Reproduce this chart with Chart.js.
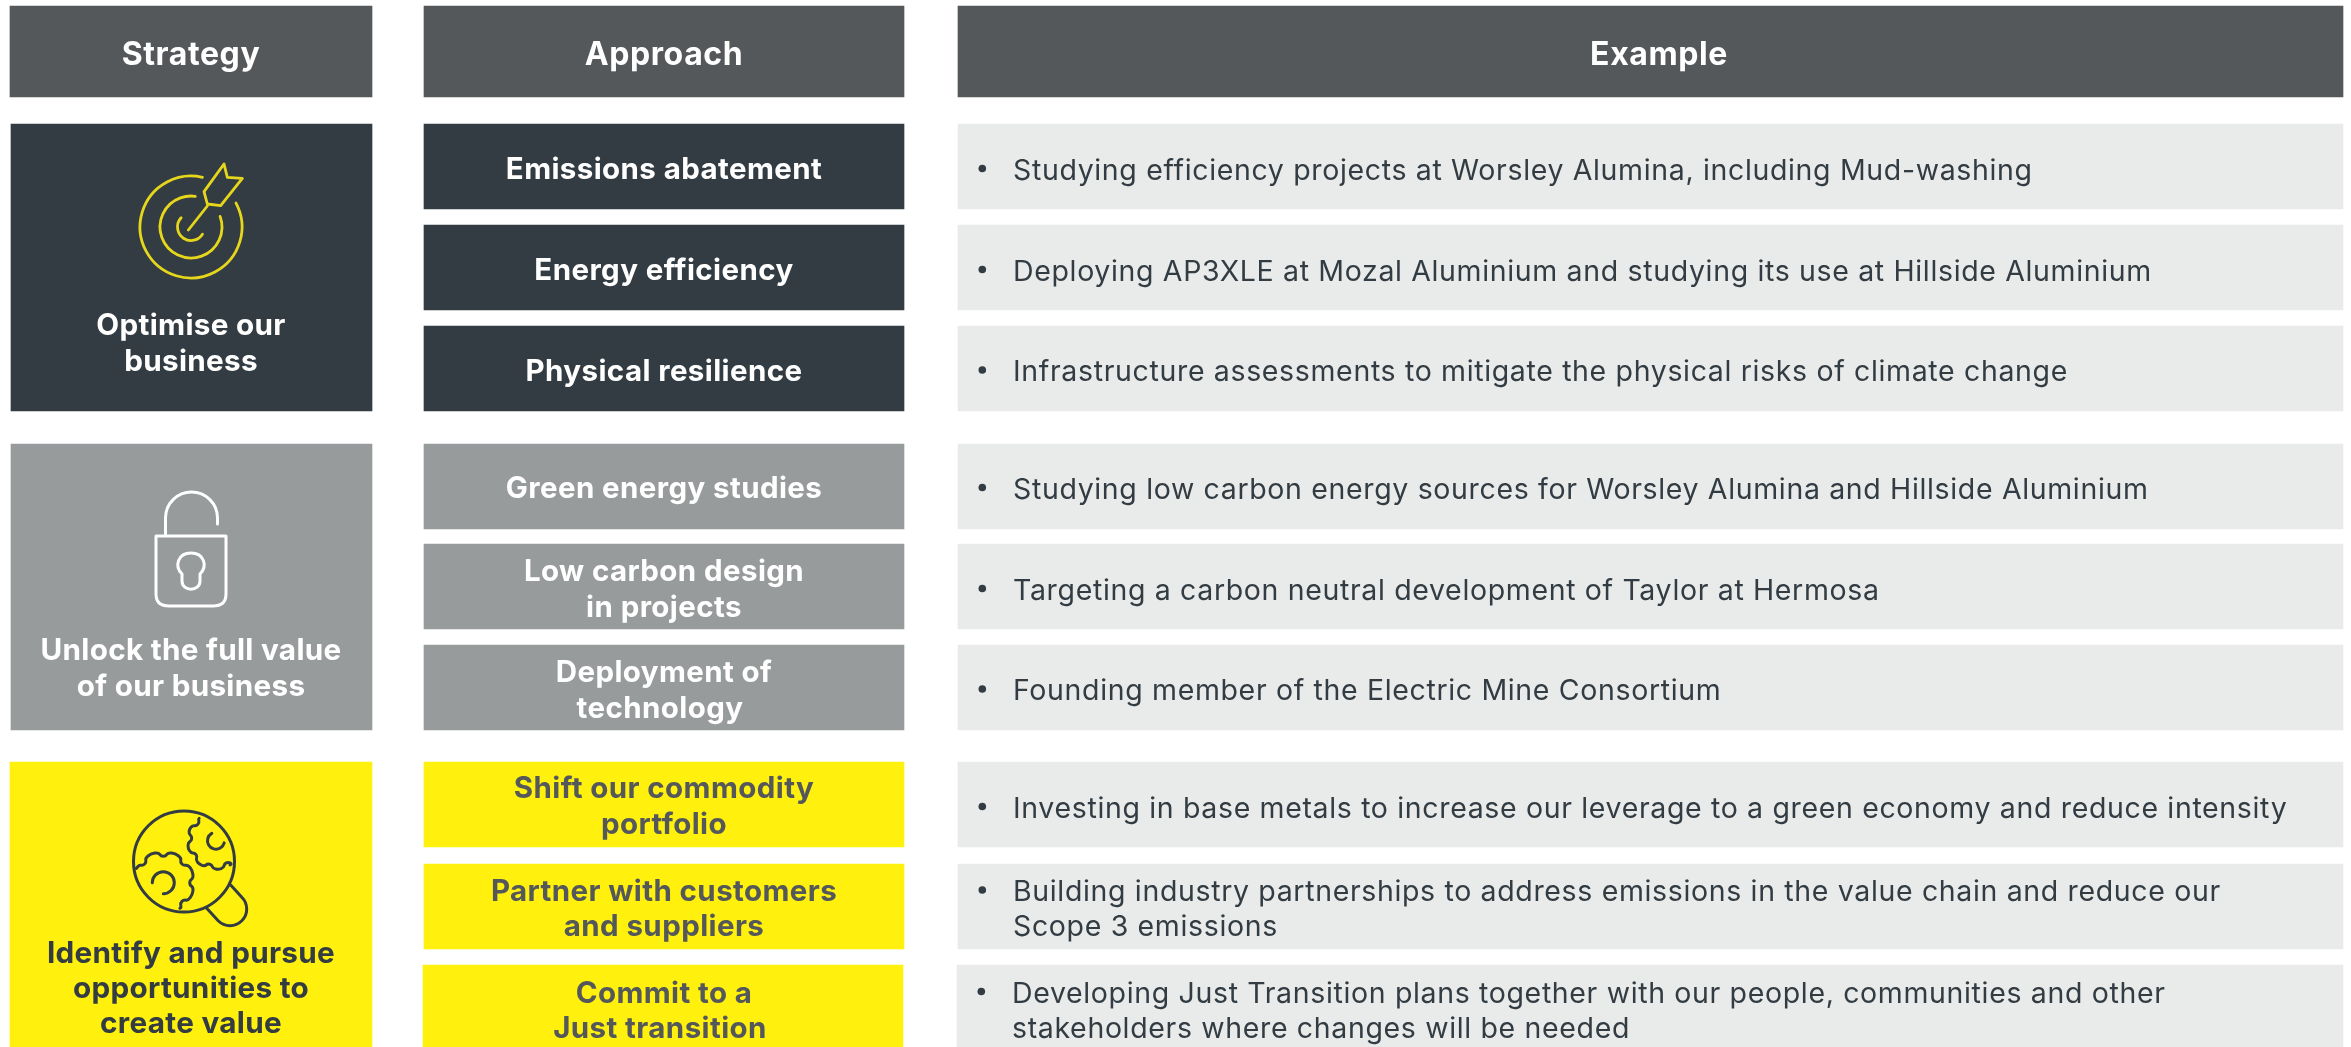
<!DOCTYPE html>
<html>
<head>
<meta charset="utf-8">
<title>Strategy, approach and example</title>
<script src="https://cdn.jsdelivr.net/npm/chart.js@4"></script>
<style>
body { margin: 0; background: #fff; }
canvas { display: block; }
</style>
</head>
<body>
<canvas id="chart" width="2351" height="1047"></canvas>
<script>
// table contents
var headerLabels = ['Strategy', 'Approach', 'Example'];
var strategyLabels = [
	['Optimise our', 'business'],
	['Unlock the full value', 'of our business'],
	['Identify and pursue', 'opportunities to', 'create value']
];
var approachLabels = [
	['Emissions abatement'],
	['Energy efficiency'],
	['Physical resilience'],
	['Green energy studies'],
	['Low carbon design', 'in projects'],
	['Deployment of', 'technology'],
	['Shift our commodity', 'portfolio'],
	['Partner with customers', 'and suppliers'],
	['Commit to a', 'Just transition']
];
var exampleLabels = [
	['Studying efficiency projects at Worsley Alumina, including Mud-washing'],
	['Deploying AP3XLE at Mozal Aluminium and studying its use at Hillside Aluminium'],
	['Infrastructure assessments to mitigate the physical risks of climate change'],
	['Studying low carbon energy sources for Worsley Alumina and Hillside Aluminium'],
	['Targeting a carbon neutral development of Taylor at Hermosa'],
	['Founding member of the Electric Mine Consortium'],
	['Investing in base metals to increase our leverage to a green economy and reduce intensity'],
	['Building industry partnerships to address emissions in the value chain and reduce our', 'Scope 3 emissions'],
	['Developing Just Transition plans together with our people, communities and other', 'stakeholders where changes will be needed']
];

// column and row extents, in axis units
var headerColumns = [[10, 372], [424, 904], [958, 2343]];
var headerTextCentres = [191, 664, 1659];
var headerRow = [6, 97];
var strategyColumns = [[11, 372], [11, 372], [10, 372]];
var approachColumn = [424, 904];
var exampleColumn = [958, 2343];
var strategyRows = [[124, 411], [444, 730], [762, 1047]];
var detailRows = [
	[124, 209], [225, 310], [326, 411],
	[444, 529], [544, 629], [645, 730],
	[762, 847], [864, 949], [965, 1047]
];
var strategyBaselines = [[335, 371], [660, 696], [963, 998, 1033]];
var approachBaselines = [
	[178.5], [279.5], [381],
	[498], [581, 617], [682, 718],
	[798, 834], [900.5, 935.5], [1002.5, 1037.5]
];
var exampleBaselines = [179.5, 280.5, 381, 498.5, 599.5, 700, 817.5, 901, 1002.5];

var headerColor = '#54585a';
var groupColors = ['#323c42', '#979b9b', '#fff10d'];
var exampleColor = '#e9ebea';
var darkText = '#323c42';
var FONT = 'Inter, "Open Sans", sans-serif';

function box(column, row, color, name) {
	return {
		label: name,
		data: [{ x: (column[0] + column[1]) / 2, y: row }],
		barThickness: column[1] - column[0],
		backgroundColor: color,
		grouped: false,
		borderWidth: 0
	};
}

var datasets = [];
headerLabels.forEach(function (name, i) {
	datasets.push(box(headerColumns[i], headerRow, headerColor, name));
});
strategyRows.forEach(function (row, i) {
	datasets.push(box(strategyColumns[i], row, groupColors[i], strategyLabels[i].join(' ')));
});
detailRows.forEach(function (row, i) {
	let group = Math.floor(i / 3);
	// the last row sits one pixel further left in the original
	let shift = i == 8 ? -1 : 0;
	let ac = [approachColumn[0] + shift, approachColumn[1] + shift];
	let ec = [exampleColumn[0] + shift, exampleColumn[1]];
	datasets.push(box(ac, row, groupColors[group], approachLabels[i].join(' ')));
	datasets.push(box(ec, row, exampleColor, exampleLabels[i].join(' ')));
});

function setFont(ctx, weight, size, spacing) {
	ctx.font = weight + ' ' + size + 'px ' + FONT;
	ctx.letterSpacing = spacing + 'px';
}

function drawPoly(ctx, pts, oy) {
	ctx.beginPath();
	pts.forEach(function (p, i) {
		if (i == 0) ctx.moveTo(p[0] / 3, oy + p[1] / 3);
		else ctx.lineTo(p[0] / 3, oy + p[1] / 3);
	});
	ctx.stroke();
}

function rad(d) { return d * Math.PI / 180; }

// open gear outline running through the angles in order, dipping at each notch
function drawGear(ctx, cx, cy, rOut, rIn, angles) {
	let step = angles[1] > angles[0] ? 1 : -1;
	let pts = [];
	function add(a, r) { pts.push([cx + r * Math.cos(rad(a)), cy + r * Math.sin(rad(a))]); }
	add(angles[0], rOut);
	for (let i = 1; i < angles.length - 1; i++) {
		add(angles[i] - step * 9, rOut);
		add(angles[i] - step * 5, rIn + 1);
		add(angles[i] + step * 5, rIn + 1);
		add(angles[i] + step * 9, rOut);
		if (i < angles.length - 2) add((angles[i] + angles[i + 1]) / 2, rOut + 1);
	}
	add(angles[angles.length - 1], rOut);
	ctx.beginPath();
	ctx.moveTo(pts[0][0], pts[0][1]);
	for (let i = 1; i < pts.length - 1; i++) {
		ctx.quadraticCurveTo(pts[i][0], pts[i][1], (pts[i][0] + pts[i + 1][0]) / 2, (pts[i][1] + pts[i + 1][1]) / 2);
	}
	ctx.lineTo(pts[pts.length - 1][0], pts[pts.length - 1][1]);
	ctx.stroke();
}

function drawTarget(ctx) {
	ctx.strokeStyle = '#e6d71c';
	ctx.lineWidth = 2.8;
	ctx.beginPath(); ctx.arc(191, 227, 51, rad(-28), rad(283)); ctx.stroke();
	ctx.beginPath(); ctx.arc(191, 227, 31, rad(-20), rad(278)); ctx.stroke();
	ctx.beginPath(); ctx.arc(191, 227, 13.5, rad(32), rad(223)); ctx.stroke();
	drawPoly(ctx, [[565, 690], [622, 618]], 0);
	drawPoly(ctx, [[612, 575], [672, 492], [682, 532], [727, 535], [662, 617], [622, 612], [612, 575]], 0);
}

function drawLock(ctx) {
	ctx.strokeStyle = '#fff';
	ctx.lineWidth = 3;
	ctx.beginPath();
	ctx.moveTo(156, 536);
	ctx.lineTo(226, 536);
	ctx.lineTo(226, 594);
	ctx.quadraticCurveTo(226, 606, 213, 606);
	ctx.lineTo(169, 606);
	ctx.quadraticCurveTo(156, 606, 156, 594);
	ctx.closePath();
	ctx.stroke();
	ctx.beginPath();
	ctx.moveTo(165.5, 534);
	ctx.lineTo(165.5, 518);
	ctx.arc(191.5, 518, 26, Math.PI, 0);
	ctx.lineTo(217.5, 524);
	ctx.stroke();
	// keyhole
	ctx.beginPath();
	ctx.moveTo(182, 574);
	ctx.bezierCurveTo(174, 566, 178, 553, 191, 553);
	ctx.bezierCurveTo(204, 553, 208, 566, 200, 574);
	ctx.lineTo(200, 581);
	ctx.bezierCurveTo(200, 592, 182, 592, 182, 581);
	ctx.closePath();
	ctx.stroke();
}

function drawLens(ctx) {
	ctx.strokeStyle = darkText;
	ctx.lineWidth = 3;
	ctx.beginPath(); ctx.arc(184, 861.5, 50.5, 0, Math.PI * 2); ctx.stroke();
	ctx.beginPath();
	ctx.moveTo(230.7, 885);
	ctx.lineTo(241.8, 897.2);
	ctx.arc(230, 909, 16.7, rad(-45), rad(135));
	ctx.lineTo(206.7, 908.3);
	ctx.stroke();
	drawGear(ctx, 163.3, 882.7, 30.5, 25.5, [-152, -135, -90, -45, 0, 45, 57]);
	drawGear(ctx, 216, 840.7, 28, 23.5, [233, 222, 185, 145, 105, 65, 60]);
	ctx.beginPath(); ctx.arc(163.3, 882.7, 11, Math.PI, rad(90)); ctx.stroke();
	ctx.beginPath(); ctx.arc(216, 840.7, 8.5, rad(240), rad(15), true); ctx.stroke();
}

var tableText = {
	id: 'tableText',
	afterDatasetsDraw: function (chart) {
		let ctx = chart.ctx;
		let xs = chart.scales.x;
		let ys = chart.scales.y;
		ctx.save();
		ctx.lineCap = 'round';
		ctx.lineJoin = 'round';
		ctx.textBaseline = 'alphabetic';

		// header row
		ctx.textAlign = 'center';
		ctx.fillStyle = '#fff';
		setFont(ctx, 700, 32, 0.6);
		headerLabels.forEach(function (name, i) {
			ctx.fillText(name, xs.getPixelForValue(headerTextCentres[i]), ys.getPixelForValue(64.5));
		});

		// strategy column
		setFont(ctx, 700, 29.7, 0.3);
		strategyLabels.forEach(function (lines, i) {
			let sx = xs.getPixelForValue(191);
			ctx.fillStyle = i == 2 ? darkText : '#fff';
			lines.forEach(function (line, j) {
				ctx.fillText(line, sx, ys.getPixelForValue(strategyBaselines[i][j]));
			});
		});

		// approach column
		setFont(ctx, 700, 29.5, 0.4);
		let ax = xs.getPixelForValue((approachColumn[0] + approachColumn[1]) / 2);
		approachLabels.forEach(function (lines, i) {
			ctx.fillStyle = i >= 6 ? headerColor : '#fff';
			lines.forEach(function (line, j) {
				// second lines of these two boxes are off centre in the original
				let off = (j == 1 && (i == 5 || i == 8)) ? -4 : 0;
				ctx.fillText(line, ax + off, ys.getPixelForValue(approachBaselines[i][j]));
			});
		});

		// example column
		ctx.textAlign = 'left';
		setFont(ctx, 400, 28.5, 0.65);
		ctx.fillStyle = darkText;
		exampleLabels.forEach(function (lines, i) {
			let shift = i == 8 ? -1 : 0;
			let y0 = ys.getPixelForValue(exampleBaselines[i]);
			lines.forEach(function (line, j) {
				ctx.fillText(line, xs.getPixelForValue(1013 + shift), y0 + j * 35);
			});
			ctx.beginPath();
			ctx.arc(xs.getPixelForValue(982.3 + shift), y0 - 11, 3.8, 0, Math.PI * 2);
			ctx.fill();
		});

		drawTarget(ctx);
		drawLock(ctx);
		drawLens(ctx);
		ctx.restore();
	}
};

new Chart(document.getElementById('chart').getContext('2d'), {
	type: 'bar',
	data: { datasets: datasets },
	plugins: [tableText],
	options: {
		responsive: false,
		animation: false,
		parsing: { xAxisKey: 'x', yAxisKey: 'y' },
		layout: { padding: 0 },
		plugins: { legend: { display: false }, tooltip: { enabled: false } },
		scales: {
			x: { type: 'linear', display: false, min: 0, max: 2351, offset: false },
			y: { type: 'linear', display: false, min: 0, max: 1047, reverse: true, beginAtZero: false }
		}
	}
});
</script>
</body>
</html>
